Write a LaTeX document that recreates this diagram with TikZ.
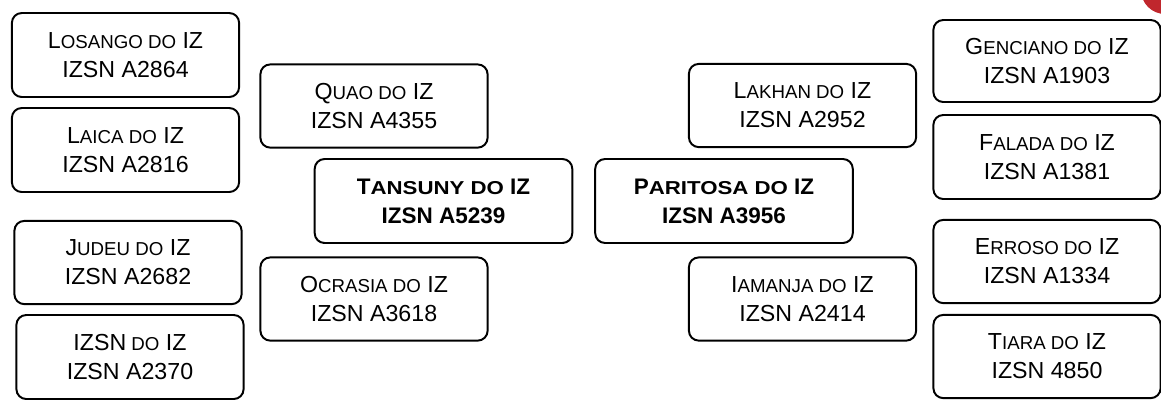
\documentclass[tikz,border=0pt]{standalone}
\usepackage{fontspec}
\setmainfont{Liberation Sans}
\usepackage{xcolor}
\usepackage{tikz}

% first letter full size, the rest as small capitals
\newcommand{\versal}[2]{#1{\fontsize{13.3}{13.3}\selectfont #2}}
\newcommand{\versalForte}[2]{#1\scalebox{1.19}[1]{\fontsize{13.3}{13.3}\selectfont #2}}

\begin{document}
\begin{tikzpicture}[every node/.style={rectangle, rounded corners=7pt, draw, line width=1.4pt, align=center, inner sep=0pt, font=\fontsize{16.5}{20.6}\selectfont},
  caixa/.style={minimum width=5.68cm, minimum height=2.08cm},
  caixaForte/.style={minimum width=6.44cm, minimum height=2.1cm, font=\fontsize{16}{20.6}\selectfont\bfseries}]
  \definecolor{vermelhoEscuro}{RGB}{192,39,45}

  \useasboundingbox (0,0) rectangle (29.025,-10.15);
  \fill[vermelhoEscuro] (29.125,0.25) circle (0.6);

  \node[caixaForte] (tansuny) at (11.0875,-5.025) {\versalForte{T}{ANSUNY DO }IZ\\IZSN A5239};
  \node[caixaForte] (paritosa) at (18.1,-5.025) {\versalForte{P}{ARITOSA DO }IZ\\IZSN A3956};

  \node[caixa, minimum height=2.1cm] (losango) at (3.1375,-1.375) {\versal{L}{OSANGO DO} IZ\\IZSN A2864};
  \node[caixa, minimum height=2.1cm] (laica) at (3.1375,-3.75) {\versal{L}{AICA DO} IZ\\IZSN A2816};
  \node[caixa] (judeu) at (3.2,-6.5625) {\versal{J}{UDEU DO} IZ\\IZSN A2682};
  \node[caixa, minimum height=2.1cm] (izsn) at (3.25,-8.925) {\versal{IZSN}{ DO} IZ\\IZSN A2370};

  \node[caixa] (quao) at (9.35,-2.65) {\versal{Q}{UAO DO} IZ\\IZSN A4355};
  \node[caixa] (ocrasia) at (9.35,-7.475) {\versal{O}{CRASIA DO} IZ\\IZSN A3618};

  \node[caixa] (lakhan) at (20.0625,-2.6375) {\versal{L}{AKHAN DO} IZ\\IZSN A2952};
  \node[caixa] (iamanja) at (20.0625,-7.475) {\versal{I}{AMANJA DO} IZ\\IZSN A2414};

  \node[caixa, minimum height=2.05cm] (genciano) at (26.175,-1.525) {\versal{G}{ENCIANO DO} IZ\\IZSN A1903};
  \node[caixa, minimum height=2.1cm] (falada) at (26.175,-3.925) {\versal{F}{ALADA DO} IZ\\IZSN A1381};
  \node[caixa] (erroso) at (26.175,-6.5375) {\versal{E}{RROSO DO} IZ\\IZSN A1334};
  \node[caixa] (tiara) at (26.175,-8.9125) {\versal{T}{IARA DO} IZ\\IZSN 4850};
\end{tikzpicture}
\end{document}
